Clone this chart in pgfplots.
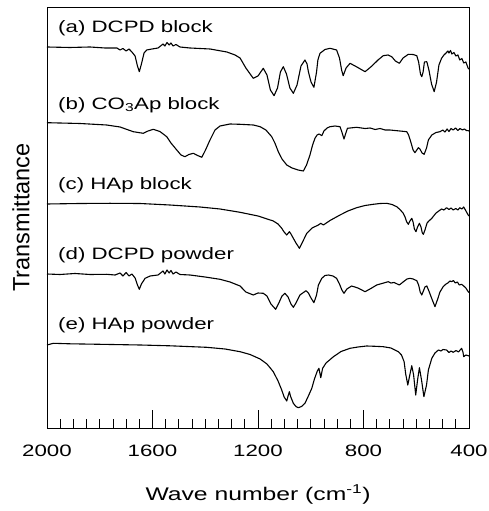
\documentclass[border=0pt]{standalone}
\usepackage{fontspec}
\setmainfont{Liberation Sans}
\newfontfamily\wide{Liberation Sans}[FakeStretch=1.35]
\usepackage{pgfplots}
\pgfplotsset{compat=1.18}
\tikzset{spec/.style={black, mark=none, line width=1.1pt, line join=round}}
\begin{document}
\begin{tikzpicture}
\begin{axis}[
  at={(0,0)}, anchor=south west,
  scale only axis, width=422pt, height=421pt,
  x dir=reverse, xmin=400, xmax=2000, ymin=0, ymax=421,
  xtick={400,800,1200,1600,2000}, minor x tick num=7,
  xtick pos=bottom, tick align=inside,
  major tick length=17.5pt, minor tick length=8.5pt,
  ytick=\empty,
  axis line style={line width=0.9pt},
  every tick/.style={line width=0.8pt, black},
  /pgf/number format/assume math mode=true,
  /pgf/number format/1000 sep={},
  xticklabel style={font=\wide\fontsize{16.5}{18}\selectfont, anchor=north, inner sep=0pt, yshift=-17pt},
  xlabel={Wave number (cm\textsuperscript{-1})},
  xlabel style={font=\wide\fontsize{18.3}{20}\selectfont, at={(axis description cs:0.5,0)}, anchor=base, yshift=-72pt, inner sep=0pt},
  ylabel={Transmittance},
  ylabel style={font=\fontsize{23.5}{26}\selectfont, at={(axis description cs:0,0.5)}, anchor=center, yshift=26pt, inner sep=0pt},
]
% (a) DCPD block
\addplot[spec] coordinates {
(2000,381) (1913,380.5) (1837,381) (1780,380) (1735,380) (1723,378) (1712,379.5) (1700,377) (1689,379) (1678,376) (1666,372) (1657,362) (1650,356.3) (1642,364) (1632,375) (1622,378) (1602,379) (1579,380) (1560,384) (1553,382) (1545,385.5) (1537,383) (1530,385) (1522,382) (1511,383.5) (1496,381) (1458,380) (1382,379) (1318,376) (1287,373) (1268,370) (1246,360) (1218,349.7) (1200,352) (1180,359.7) (1166,353) (1153,338) (1139,332.3) (1126,340) (1115,356) (1104,361.3) (1092,354) (1079,340) (1066,334.7) (1052,343) (1037,362) (1022,368) (1014,364) (1009,356.3) (999,346) (988,340.7) (978,356) (973,368) (965,374.7) (946,378.5) (927,379.7) (902,378) (891,370) (883,358) (877,352.3) (866,360) (851,364.7) (825,361) (794,356.3) (768,362) (745,368) (725,372.3) (707,373) (693,371.3) (679,367) (664,364.7) (650,370) (630,373.7) (612,373.5) (598,372.3) (591,366) (584,354) (579,351.3) (574,356) (569,366) (560,366.3) (552,358) (542,344) (532,336.3) (523,346) (514,363) (504,369.7) (495,373) (487,375) (480,377) (476,375) (470,377.5) (465,374) (457,375.5) (450,372) (442,373) (435,368) (427,369.5) (420,365) (412,366) (403,359.7) (400,359)
};
% (b) CO3Ap block
\addplot[spec] coordinates {
(2000,305.3) (1875,304.5) (1774,303) (1723,301) (1673,296.3) (1635,294.7) (1617,297) (1597,298.7) (1572,296.5) (1546,291.3) (1530,285) (1508,278) (1492,273) (1477,271.3) (1462,273.5) (1445,274.7) (1429,272.5) (1413,270.7) (1399,278) (1382,288) (1363,298) (1344,302) (1306,304) (1268,303.7) (1218,303) (1192,301.3) (1170,298) (1148,291.3) (1136,285) (1123,276.3) (1109,269) (1091,263) (1071,260) (1048,258) (1028,257) (1016,263) (1003,273) (993,283) (984,289.7) (976,293) (968,294) (958,292.3) (950,297) (938,300) (927,301.3) (908,302) (889,301.3) (882,296) (874,289) (868,294) (861,299.7) (826,300.7) (794,299.5) (775,300) (756,298.5) (737,299.5) (718,298) (700,298) (681,297.5) (662,297) (636,296.3) (629,293) (621,286.3) (612,278) (605,275.3) (598,278) (592,280.3) (586,279) (578,275) (570,273.7) (561,280) (554,288) (541,293) (525,295.5) (510,296.3) (499,298) (491,296) (483,299) (476,296.5) (468,299.5) (460,298) (451,300) (442,297.5) (434,299.5) (425,298) (417,299) (410,297.5) (403,297.3) (400,297)
};
% (c) HAp block
\addplot[spec] coordinates {
(2000,224) (1875,224.5) (1761,224.7) (1647,224.5) (1534,223) (1420,221) (1344,219) (1268,215.7) (1200,212) (1142,207) (1124,204) (1110,199.7) (1101,196) (1091,193) (1081,196.3) (1075,194) (1066,189.7) (1056,185) (1043,179.7) (1033,185) (1015,194.7) (995,200) (971,203) (962,204.7) (952,203) (927,207.5) (889,213) (859,217) (826,220.3) (794,222.5) (763,223.7) (737,224.5) (712,224.7) (692,223.5) (674,221.3) (662,218.5) (650,215) (643,211.3) (636,206) (630,203.7) (624,207) (617,209.7) (612,206) (607,199) (601,196.3) (595,201) (588,204.7) (582,201) (577,195) (573,193.7) (567,198) (559,205) (552,207) (541,209.7) (525,215) (504,219) (495,218) (485,220.3) (476,218.5) (468,220) (460,218) (450,219.5) (442,218) (435,220.3) (427,219) (420,221) (410,216.3) (403,213) (400,212)
};
% (d) DCPD powder
\addplot[spec] coordinates {
(2000,154) (1951,153.5) (1894,154.5) (1837,153.5) (1774,153.7) (1742,153) (1723,155) (1712,152) (1700,155.5) (1689,152) (1678,154) (1666,150) (1657,143) (1650,138.7) (1642,144) (1628,149.7) (1609,152) (1579,153) (1560,157) (1553,154) (1545,158) (1537,155) (1530,157.5) (1522,154) (1511,156) (1496,153.5) (1458,153) (1401,151) (1344,148.7) (1306,146) (1268,142) (1246,136) (1218,133) (1200,135) (1180,134.7) (1166,132) (1151,124) (1133,118.7) (1121,125) (1109,132) (1098,134.7) (1086,131) (1075,124) (1066,120.7) (1056,125) (1041,133) (1018,137.3) (1009,135) (999,130) (988,125.3) (978,133) (971,143) (958,149.7) (946,152.5) (933,153) (916,152) (902,149.7) (891,144) (882,138) (874,134.7) (863,139) (845,142) (821,140) (794,136.3) (772,139.5) (750,143) (730,144.5) (706,146.3) (696,145) (684,145.5) (664,143) (650,146) (635,149) (624,149.7) (612,149) (598,147.3) (591,143) (585,136) (579,133) (573,137) (567,141) (560,142) (552,137) (542,130) (529,121.3) (520,128) (510,136) (498,141.3) (487,144) (480,145) (472,147) (466,146.3) (459,147.5) (452,145) (444,146) (437,143) (428,143.7) (420,142) (412,140) (403,136.3) (400,135.5)
};
% (e) HAp powder
\addplot[spec] coordinates {
(2000,83) (1976,84.7) (1913,84.2) (1799,83.7) (1647,83) (1534,82.2) (1395,80.7) (1325,79) (1268,76.3) (1230,73.5) (1192,69) (1166,64) (1142,56.3) (1124,47) (1110,38) (1101,31) (1091,27) (1086,32) (1081,36.3) (1077,32) (1066,24.7) (1056,21.5) (1047,20.3) (1035,21.5) (1022,24.7) (1009,32) (996,39.7) (986,49) (975,57) (969,59.7) (962,50.3) (955,59.7) (942,65) (914,71.3) (885,76.5) (851,79.7) (821,81) (788,82) (756,81.7) (725,81.3) (696,80) (668,76.3) (656,73) (646,66.3) (640,54) (632,43) (626,51) (617,62.3) (610,53) (602,33) (595,48) (588,60.3) (580,48) (571,31.3) (561,43) (554,58) (541,69.7) (529,75) (516,78) (506,77) (499,78.5) (485,78) (476,75.5) (468,77) (460,75.7) (449,77.5) (440,76) (428,79.7) (423,76) (420,71.3) (412,73) (403,72.3) (400,72)
};
\end{axis}
\begin{scope}[every node/.style={anchor=base west, inner sep=0pt, font=\wide\fontsize{16.5}{18}\selectfont}]
\node at (11pt,395.3pt) {(a) DCPD block};
\node at (11pt,318.7pt) {(b) CO\textsubscript{3}Ap block};
\node at (11pt,238.7pt) {(c) HAp block};
\node at (11pt,168.7pt) {(d) DCPD powder};
\node at (11pt,98.7pt) {(e) HAp powder};
\end{scope}
\pgfresetboundingbox
\useasboundingbox (-47pt,-83pt) rectangle (442pt,428pt);
\end{tikzpicture}
\end{document}
